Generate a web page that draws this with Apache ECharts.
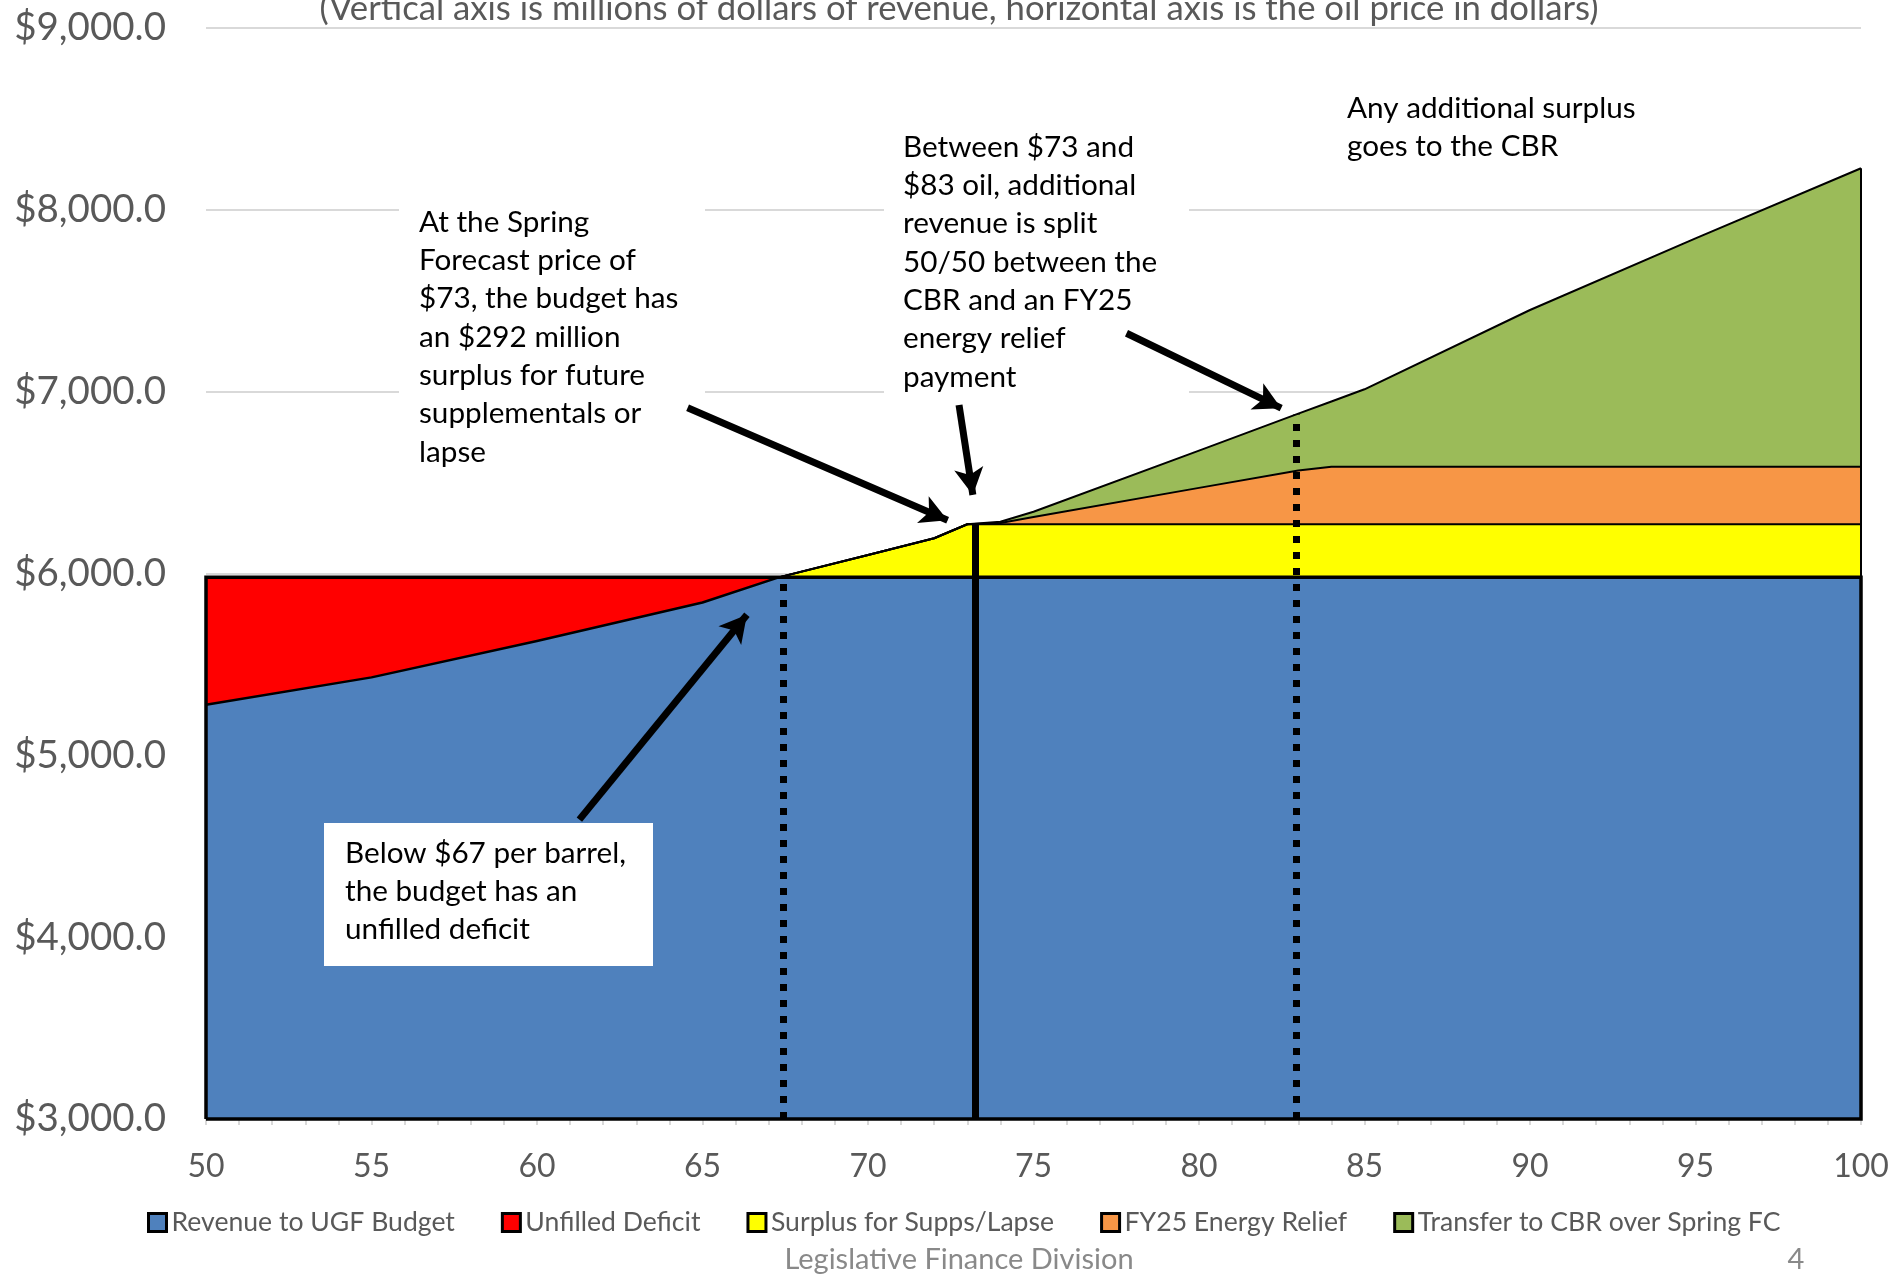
<!DOCTYPE html>
<html><head><meta charset="utf-8">
<script src="https://cdn.jsdelivr.net/npm/echarts@6/dist/echarts.min.js"></script>
<style>html,body{margin:0;padding:0;background:#fff}#c{width:1901px;height:1276px}</style>
</head><body><div id="c"></div>
<script>
// ---- data (millions of $, oil price in $) ----
const prices          = [50, 55, 60, 65, 67.3, 70, 72, 73, 74, 75, 80, 83, 84, 85, 90, 95, 100];
const budget          = 5978;
const revenueToBudget = [5278, 5428, 5628, 5840, 5978, 5978, 5978, 5978, 5978, 5978, 5978, 5978, 5978, 5978, 5978, 5978, 5978];
const unfilledDeficit = [700, 550, 350, 138, 0, 0, 0, 0, 0, 0, 0, 0, 0, 0, 0, 0, 0];
const surplus         = [0, 0, 0, 0, 0, 123, 215, 292, 292, 292, 292, 292, 292, 292, 292, 292, 292];
const energyRelief    = [0, 0, 0, 0, 0, 0, 0, 0, 7, 40, 200, 296, 316, 316, 316, 316, 316];
const cbrTransfer     = [0, 0, 0, 0, 0, 0, 0, 0, 7, 29, 205, 312, 359, 426, 862, 1256, 1641];
const xTicks = [50, 55, 60, 65, 70, 75, 80, 85, 90, 95, 100];
const yTicks = [3000, 4000, 5000, 6000, 7000, 8000, 9000];
const seriesNames = ['Revenue to UGF Budget', 'Unfilled Deficit', 'Surplus for Supps/Lapse', 'FY25 Energy Relief', 'Transfer to CBR over Spring FC'];
const markerPrices = {deficitEnd: 67.45, springForecast: 73.25, reliefEnd: 82.93};
const arrowDefs = [
  {from: [61.28, 4646], to: [66.6, 5830]},
  {from: [64.55, 6910], to: [72.78, 6262]},
  {from: [72.75, 6926], to: [73.23, 6358]},
  {from: [77.81, 7320], to: [82.85, 6876]}
];
const notes = {
  deficit: 'Below $67 per barrel,\nthe budget has an\nunfilled deficit',
  spring: 'At the Spring\nForecast price of\n$73, the budget has\nan $292 million\nsurplus for future\nsupplementals or\nlapse',
  split: 'Between $73 and\n$83 oil, additional\nrevenue is split\n50/50 between the\nCBR and an FY25\nenergy relief\npayment',
  cbr: 'Any additional surplus\ngoes to the CBR',
  title: '(Vertical axis is millions of dollars of revenue, horizontal axis is the oil price in dollars)',
  footer: 'Legislative Finance Division',
  page: '4'
};

// ---- build ----
const F = 'Lato, "Open Sans", sans-serif';
const yMin = yTicks[0], yMax = yTicks[yTicks.length - 1];
const pMin = prices[0], pMax = prices[prices.length - 1];
const n = prices.length;
const topBlue = revenueToBudget.slice();
const topRed = topBlue.map((v, i) => v + unfilledDeficit[i]);
const topYellow = topRed.map((v, i) => v + surplus[i]);
const topOrange = topYellow.map((v, i) => v + energyRelief[i]);
const topGreen = topOrange.map((v, i) => v + cbrTransfer[i]);
const pts = arr => prices.map((p, i) => [p, arr[i]]);
function interp(arr, x) {
  for (let i = 0; i < n - 1; i++) {
    if (x >= prices[i] && x <= prices[i + 1]) {
      const t = (x - prices[i]) / (prices[i + 1] - prices[i]);
      return arr[i] + t * (arr[i + 1] - arr[i]);
    }
  }
  return arr[n - 1];
}
function fmtMoney(v) {
  const s = String(Math.round(v)).replace(/\B(?=(\d{3})+(?!\d))/g, ',');
  return '$' + s + '.0';
}
function areaSeries(name, arr, color, lw) {
  return {
    name, type: 'line', data: pts(arr), symbol: 'none', showSymbol: false, silent: true,
    lineStyle: {color: '#000', width: lw, join: 'round'},
    itemStyle: {color},
    areaStyle: {color, opacity: 1, origin: 'start'},
    emphasis: {disabled: true}, animation: false, z: 2
  };
}
const dotted = {color: '#000', width: 7, type: [7, 9], cap: 'butt'};
const vLines = [
  [{coord: [markerPrices.deficitEnd, yMin], symbol: 'none', lineStyle: dotted},
   {coord: [markerPrices.deficitEnd, budget], symbol: 'none'}],
  [{coord: [markerPrices.springForecast, yMin], symbol: 'none', lineStyle: {color: '#000', width: 7, type: 'solid'}},
   {coord: [markerPrices.springForecast, interp(topYellow, markerPrices.springForecast)], symbol: 'none'}],
  [{coord: [markerPrices.reliefEnd, yMin], symbol: 'none', lineStyle: dotted},
   {coord: [markerPrices.reliefEnd, interp(topGreen, markerPrices.reliefEnd)], symbol: 'none'}]
];

const textStyleBase = {fill: '#000', fontFamily: F, fontSize: 29.7, lineHeight: 38.3, verticalAlign: 'top', align: 'left'};
const option = {
  animation: false,
  backgroundColor: '#fff',
  grid: {left: 206, right: 40, top: 27.7, bottom: 157, containLabel: false, outerBoundsMode: 'none'},
  xAxis: {
    type: 'value', min: pMin, max: pMax, interval: 5,
    axisLine: {show: true, lineStyle: {color: '#D9D9D9', width: 2}},
    axisTick: {show: true, length: 6, lineStyle: {color: '#D9D9D9', width: 2}},
    minorTick: {show: true, splitNumber: 5, length: 6, lineStyle: {color: '#D9D9D9', width: 2}},
    splitLine: {show: false},
    axisLabel: {fontFamily: F, fontSize: 32, color: '#595959', margin: 32,
      formatter: v => xTicks.indexOf(v) >= 0 ? String(v) : ''}
  },
  yAxis: {
    type: 'value', min: yMin, max: yMax, interval: 1000,
    axisLine: {show: false}, axisTick: {show: false},
    splitLine: {show: true, lineStyle: {color: '#D9D9D9', width: 2}},
    axisLabel: {fontFamily: F, fontSize: 38.5, color: '#595959', margin: 40, formatter: v => fmtMoney(v)}
  },
  legend: {
    data: seriesNames, left: 142, top: 1204, icon: 'rect', itemWidth: 18, itemHeight: 18, itemGap: 46,
    itemStyle: {borderColor: '#000', borderWidth: 3},
    textStyle: {fontFamily: F, fontSize: 26.6, color: '#595959'},
    selectedMode: false
  },
  series: [
    areaSeries(seriesNames[4], topGreen, '#9BBB59', 2),
    areaSeries(seriesNames[3], topOrange, '#F79646', 2),
    areaSeries(seriesNames[2], topYellow, '#FFFF00', 2),
    areaSeries(seriesNames[1], topRed, '#FF0000', 2.5),
    areaSeries(seriesNames[0], topBlue, '#4F81BD', 2.5),
    {type: 'line', id: 'rightEdge', data: [[pMax, yMin], [pMax, topGreen[n - 1]]], symbol: 'none', silent: true,
     lineStyle: {color: '#000', width: 2}, clip: false, z: 3},
    {type: 'line', id: 'outline', data: [[pMin, yMin], [pMin, budget], [pMax, budget], [pMax, yMin], [pMin, yMin]],
     symbol: 'none', silent: true, clip: false, z: 200,
     lineStyle: {color: '#000', width: 3.5, join: 'miter'},
     markLine: {silent: true, z: 200, symbol: 'none', label: {show: false}, animation: false, emphasis: {disabled: true},
       data: vLines}}
  ],
  graphic: [
    {type: 'rect', z: 50, silent: true, shape: {x: 399, y: 190, width: 306, height: 285}, style: {fill: '#fff'}},
    {type: 'rect', z: 50, silent: true, shape: {x: 884, y: 118, width: 305, height: 282}, style: {fill: '#fff'}},
    {type: 'rect', z: 50, silent: true, shape: {x: 324, y: 823, width: 329, height: 143}, style: {fill: '#fff'}},
    {type: 'text', z: 51, silent: true, x: 345, y: 834, style: Object.assign({text: notes.deficit}, textStyleBase)},
    {type: 'text', z: 51, silent: true, x: 419, y: 203, style: Object.assign({text: notes.spring}, textStyleBase)},
    {type: 'text', z: 51, silent: true, x: 903, y: 128, style: Object.assign({text: notes.split}, textStyleBase)},
    {type: 'text', z: 51, silent: true, x: 1347, y: 89, style: Object.assign({text: notes.cbr}, textStyleBase)},
    {type: 'text', z: 51, silent: true, x: 959, y: 9, style: {text: notes.title, fill: '#595959', fontFamily: F, fontSize: 34.7, align: 'center', verticalAlign: 'middle'}},
    {type: 'text', z: 51, silent: true, x: 959, y: 1260, style: {text: notes.footer, fill: '#898989', fontFamily: F, fontSize: 29, align: 'center', verticalAlign: 'middle'}},
    {type: 'text', z: 51, silent: true, x: 1796, y: 1260, style: {text: notes.page, fill: '#898989', fontFamily: F, fontSize: 29, align: 'center', verticalAlign: 'middle'}}
  ]
};
const chart = echarts.init(document.getElementById('c'), null, {renderer: 'canvas', width: 1901, height: 1276});
chart.setOption(option);
const head = 27;
const arrowData = arrowDefs.map(a => {
  const p0 = chart.convertToPixel({gridIndex: 0}, a.from);
  const p1 = chart.convertToPixel({gridIndex: 0}, a.to);
  const dx = p1[0] - p0[0], dy = p1[1] - p0[1], L = Math.hypot(dx, dy);
  const e = [p1[0] - dx / L * head / 2, p1[1] - dy / L * head / 2];
  const end = chart.convertFromPixel({gridIndex: 0}, e);
  return [{coord: a.from, symbol: 'none', lineStyle: {color: '#000', width: 7, type: 'solid'}},
          {coord: end, symbol: 'arrow', symbolSize: [22, head]}];
});
chart.setOption({series: [{id: 'outline', markLine: {data: vLines.concat(arrowData)}}]});
</script></body></html>
